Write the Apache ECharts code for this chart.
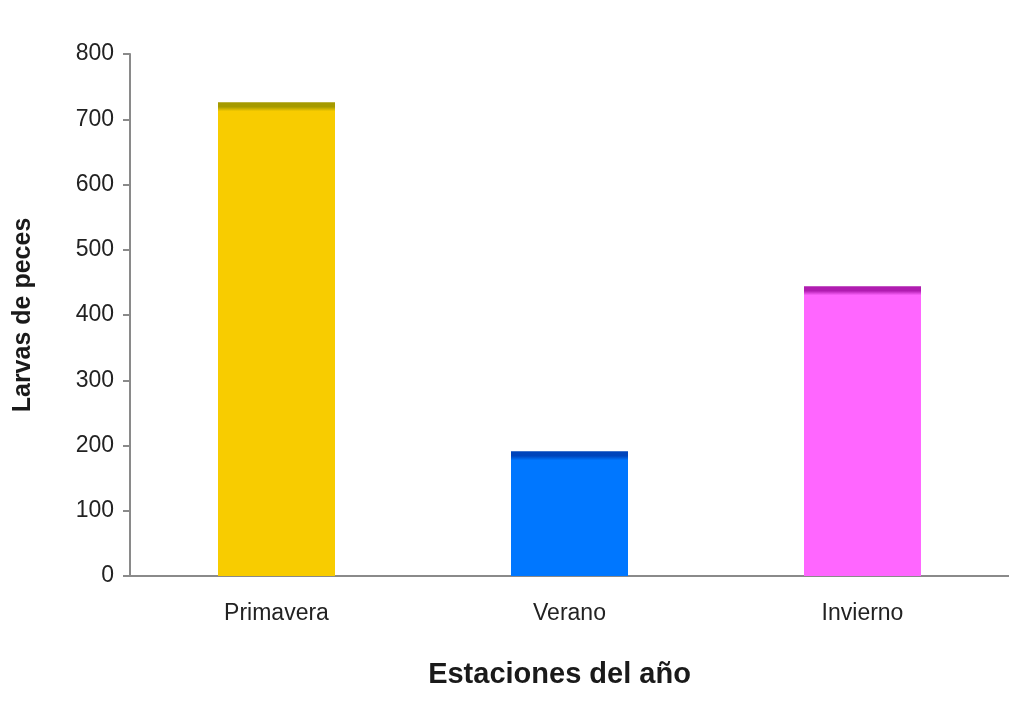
<!DOCTYPE html>
<html>
<head>
<meta charset="utf-8">
<script src="https://cdn.jsdelivr.net/npm/echarts@6/dist/echarts.min.js"></script>
<style>
  html, body { margin: 0; padding: 0; background: #fff; }
  #chart { width: 1009px; height: 719px; }
</style>
</head>
<body>
<div id="chart"></div>
<script>
var categories = ['Primavera', 'Verano', 'Invierno'];
var larvas = [726, 191, 444];
var barColors = ['#f8cc00', '#0077ff', '#ff66ff'];
var topColors = ['#a59a00', '#0044bb', '#b01cb0'];

var myChart = echarts.init(document.getElementById('chart'));

// px per unit on the value axis, used only to keep the dark top band ~8px
var pxPerUnit = 522 / 800;

var seriesData = larvas.map(function (v, i) {
  var h = v * pxPerUnit;
  var o = 9 / h;
  return {
    value: v,
    itemStyle: {
      color: {
        type: 'linear', x: 0, y: 0, x2: 0, y2: 1,
        colorStops: [
          { offset: 0, color: topColors[i] },
          { offset: o * 0.5, color: topColors[i] },
          { offset: o, color: barColors[i] },
          { offset: 1, color: barColors[i] }
        ]
      }
    }
  };
});

var option = {
  animation: false,
  grid: { left: 130, right: -3, top: 54, bottom: 143 },
  xAxis: {
    type: 'category',
    data: categories,
    name: 'Estaciones del año',
    nameLocation: 'middle',
    nameGap: 84,
    nameTextStyle: { fontFamily: 'Liberation Sans', fontSize: 29, fontWeight: 'bold', color: '#1a1a1a', padding: [0, 20, 0, 0] },
    axisLine: { lineStyle: { color: '#8a8a8a', width: 2 } },
    axisTick: { show: false },
    axisLabel: { fontFamily: 'Liberation Sans', fontSize: 23, color: '#222', margin: 26 }
  },
  yAxis: {
    type: 'value',
    min: 0,
    max: 800,
    interval: 100,
    name: 'Larvas de peces',
    nameLocation: 'middle',
    nameGap: 94,
    nameTextStyle: { fontFamily: 'Liberation Sans', fontSize: 25, fontWeight: 'bold', color: '#1a1a1a' },
    axisLine: { show: true, lineStyle: { color: '#8a8a8a', width: 2 } },
    axisTick: { show: true, length: 7, lineStyle: { color: '#8a8a8a', width: 2 } },
    axisLabel: { fontFamily: 'Liberation Sans', fontSize: 23, color: '#222', margin: 16 },
    splitLine: { show: false }
  },
  series: [
    {
      type: 'bar',
      data: seriesData,
      barWidth: 117
    }
  ]
};

myChart.setOption(option);
</script>
</body>
</html>
